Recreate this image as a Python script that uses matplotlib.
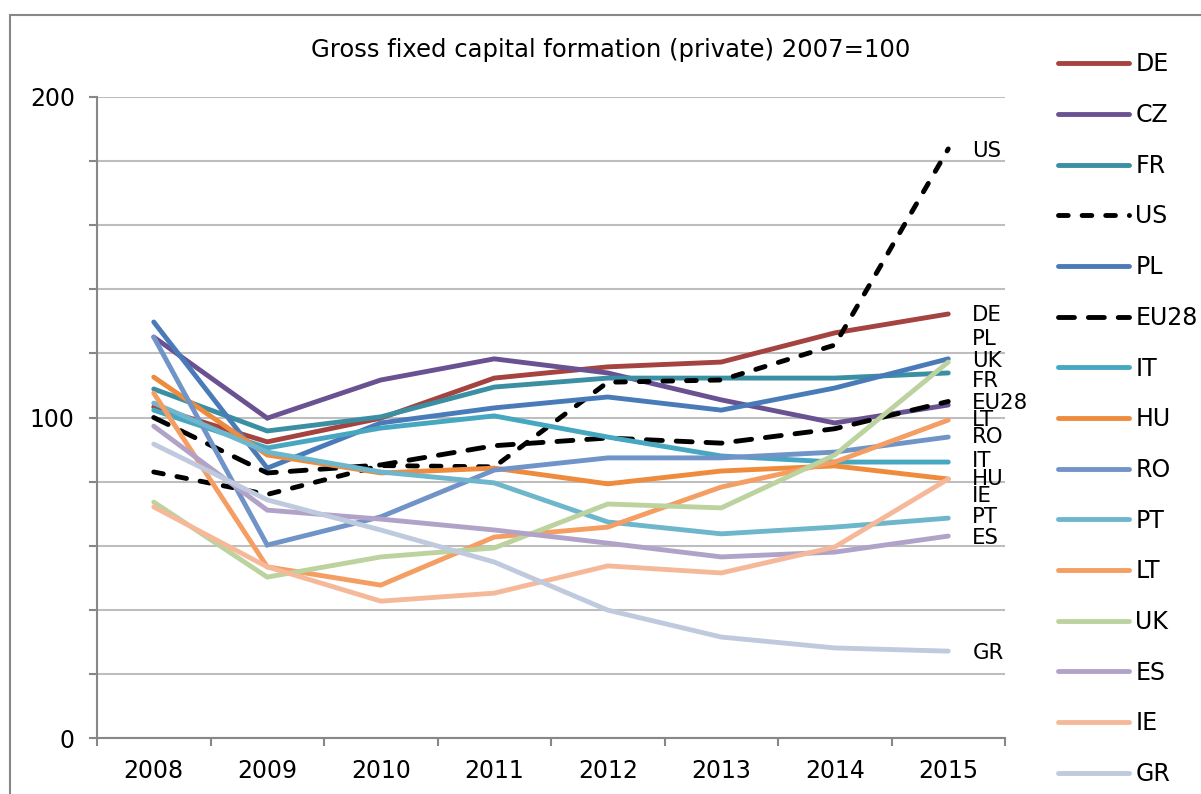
import matplotlib
matplotlib.use("Agg")
import matplotlib.pyplot as plt
from matplotlib.patches import Rectangle
from matplotlib.ticker import MultipleLocator, FixedLocator

plt.rcParams['font.family'] = ['DejaVu Sans']
plt.rcParams['lines.scale_dashes'] = False

years = ["2008", "2009", "2010", "2011", "2012", "2013", "2014", "2015"]

DE   = [103.3, 92.4, 99.8, 112.3, 115.8, 117.3, 126.4, 132.3]
CZ   = [125.1, 99.8, 111.7, 118.3, 113.9, 105.5, 98.3, 103.9]
FR   = [108.9, 95.8, 100.2, 109.5, 112.3, 112.3, 112.3, 113.9]
US   = [83.0, 76.0, 85.0, 84.6, 111.0, 111.7, 122.6, 183.8]
PL   = [129.8, 84.2, 98.3, 103.0, 106.4, 102.3, 109.2, 118.3]
EU28 = [100.0, 82.7, 85.2, 91.2, 93.6, 92.0, 96.5, 105.0]
IT   = [102.3, 90.5, 96.7, 100.5, 93.9, 88.0, 86.1, 86.1]
HU   = [112.6, 88.3, 82.7, 84.2, 79.3, 83.3, 84.9, 80.8]
RO   = [125.1, 60.2, 69.0, 83.6, 87.4, 87.4, 89.2, 93.9]
PT   = [104.5, 89.2, 83.0, 79.6, 67.4, 63.7, 65.8, 68.6]
LT   = [107.6, 53.4, 47.7, 62.7, 65.8, 78.3, 86.1, 99.2]
UK   = [73.6, 50.2, 56.5, 59.3, 73.0, 71.8, 88.3, 117.3]
ES   = [97.3, 71.1, 68.3, 64.9, 60.8, 56.5, 58.0, 63.0]
IE   = [72.1, 53.4, 42.7, 45.2, 53.7, 51.5, 59.6, 80.8]
GR   = [91.7, 74.3, 64.9, 54.9, 39.9, 31.5, 28.1, 27.1]

series_names = ["DE", "CZ", "FR", "US", "PL", "EU28", "IT", "HU",
                "RO", "PT", "LT", "UK", "ES", "IE", "GR"]
series_values = [DE, CZ, FR, US, PL, EU28, IT, HU, RO, PT, LT, UK, ES, IE, GR]
series_colors = ["#A4433F", "#6A5191", "#3A8FA3", "#000000", "#4A7BB9",
                 "#000000", "#47A7C0", "#EE8B3C", "#7094C7", "#6DB6CB",
                 "#F59E63", "#BCD29F", "#B1A3C7", "#F5B99A", "#C0CADE"]

# end-of-line label positions (data units), adjusted as in the original
end_labels = ["US", "DE", "PL", "UK", "FR", "EU28", "LT", "RO", "IT",
              "HU", "IE", "PT", "ES", "GR"]
end_label_y = [183.0, 132.0, 124.5, 117.5, 111.3, 104.5, 99.2, 93.9, 86.4,
               80.7, 75.4, 68.8, 62.5, 26.6]

title = "Gross fixed capital formation (private) 2007=100"

W, H = 1201, 794
fig = plt.figure(figsize=(W / 100, H / 100), dpi=100)
ax = fig.add_axes([97 / W, (H - 738) / H, (1005 - 97) / W, (738 - 97) / H])

x = list(range(len(years)))
handles = []
for name, vals, col in zip(series_names, series_values, series_colors):
    if name == "US":
        ls = (0, (7.0, 10.0))
    elif name == "EU28":
        ls = (0, (11.5, 10.0))
    else:
        ls = "-"
    ln, = ax.plot(x, vals, color=col, lw=3.5, linestyle=ls,
                  solid_capstyle="round", dash_capstyle="round",
                  solid_joinstyle="miter", label=name)
    handles.append(ln)

ax.set_xlim(-0.5, len(years) - 0.5)
ax.set_ylim(0, 200)

ax.yaxis.set_major_locator(FixedLocator([0, 100, 200]))
ax.yaxis.set_minor_locator(MultipleLocator(20))
ax.set_xticks(x)
ax.set_xticklabels(years)
ax.xaxis.set_minor_locator(FixedLocator([i - 0.5 for i in range(len(years) + 1)]))

ax.grid(axis="y", which="both", color="#BEBEBE", lw=1.5)
ax.set_axisbelow(True)
for s in ["top", "right"]:
    ax.spines[s].set_visible(False)
for s in ["left", "bottom"]:
    ax.spines[s].set_color("#878787")
    ax.spines[s].set_linewidth(1.5)

ax.tick_params(axis="y", which="both", length=6, width=1.5, color="#878787",
               labelsize=17, pad=10)
ax.tick_params(axis="x", which="major", length=0, labelsize=17, pad=15)
ax.tick_params(axis="x", which="minor", length=5.5, width=1.5, color="#878787")

for lab, yv in zip(end_labels, end_label_y):
    ax.annotate(lab, xy=(len(years) - 1, yv), xytext=(24, 0),
                textcoords="offset pixels", va="center", ha="left",
                fontsize=15.3, annotation_clip=False)

fig.text(611 / W, 1 - 50 / H, title, ha="center", va="center", fontsize=17.5)

fig.legend(handles=handles, labels=series_names, loc="upper left",
           bbox_to_anchor=(1049 / W, 1 - 43 / H), frameon=False,
           fontsize=17, handlelength=3.0, handletextpad=0.25,
           labelspacing=1.13, borderaxespad=0)

fig.patches.append(Rectangle((10 / W, -0.05), 1.2, (H - 15) / H + 0.05,
                             transform=fig.transFigure, fill=False,
                             edgecolor="#878787", lw=1.5, clip_on=False))

fig.savefig("out.png", dpi=100)
